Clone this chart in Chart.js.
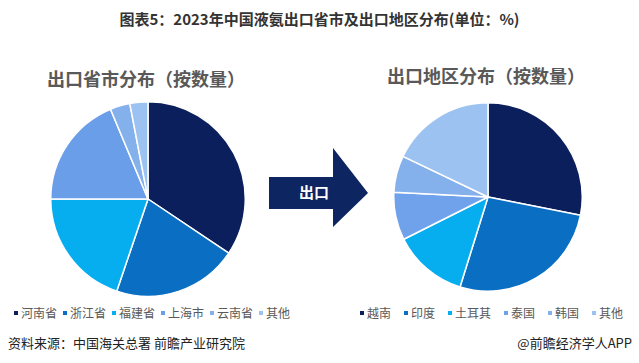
<!DOCTYPE html>
<html>
<head>
<meta charset="utf-8">
<script src="https://cdn.jsdelivr.net/npm/chart.js@4/dist/chart.umd.min.js"></script>
<style>
    body { margin: 0; width: 639px; height: 363px; background: #fff; position: relative; overflow: hidden;
           font-family: "Noto Sans CJK SC", "Noto Sans", sans-serif; }
    .abs { position: absolute; white-space: nowrap; }
    #title { left: 0; width: 639px; top: 8px; text-align: center; font-size: 15px; font-weight: bold; color: #333; }
    .sub { font-size: 18px; font-weight: bold; color: #595959; }
    .legend { display: flex; font-size: 12px; color: #595959; top: 304px; }
    .legend span { display: flex; align-items: center; }
    .legend i { display: inline-block; width: 4px; height: 4px; margin-right: 3px; }
    .src { font-size: 13px; color: #222; top: 333px; }
    #arrow { left: 269px; top: 148px; }
</style>
</head>
<body>
<div id="title" class="abs">图表5：2023年中国液氨出口省市及出口地区分布(单位：%)</div>
<div class="abs sub" style="left:47px; top:65px;">出口省市分布（按数量）</div>
<div class="abs sub" style="left:387px; top:62px;">出口地区分布（按数量）</div>

<div class="abs" style="left:50px; top:101px; width:196px; height:196px;"><canvas id="province-pie"></canvas></div>
<div class="abs" style="left:393px; top:102px; width:190px; height:190px;"><canvas id="region-pie"></canvas></div>

<svg id="arrow" class="abs" width="100" height="80">
    <polygon points="0,29 64,29 64,0 99,45 64,79 64,61 0,61" fill="#0D2560"/>
    <text x="30" y="50" font-size="15" font-weight="bold" fill="#fff" font-family="Noto Sans CJK SC">出口</text>
</svg>

<div id="province-legend" class="abs legend" style="left:14px;"></div>
<div id="region-legend" class="abs legend" style="left:360px;"></div>

<div class="abs src" style="left:8px;">资料来源：中国海关总署 前瞻产业研究院</div>
<div class="abs src" style="right:7px;">@前瞻经济学人APP</div>

<script>
// 出口省市分布（按数量）, %
var provinceLabels = ["河南省", "浙江省", "福建省", "上海市", "云南省", "其他"];
var provinceValues = [34.4, 20.8, 19.8, 18.7, 3.3, 3.0];
var provinceColors = ["#0B1F5C", "#0A6FC2", "#06AEEF", "#6A9EE8", "#84B0EC", "#9CC2F2"];

// 出口地区分布（按数量）, %
var regionLabels = ["越南", "印度", "土耳其", "泰国", "韩国", "其他"];
var regionValues = [28.1, 26.7, 12.8, 8.2, 6.3, 17.9];
var regionColors = ["#0B1F5C", "#0A6FC2", "#06AEEF", "#6FA2EA", "#84B0EC", "#9CC2F2"];

var options = {
    responsive: true,
    maintainAspectRatio: false,
    animation: false,
    layout: { padding: 0 },
    plugins: {
        legend: { display: false },
        tooltip: { enabled: false }
    }
};

function drawPie(id, labels, values, colors) {
    new Chart(document.getElementById(id), {
        type: 'pie',
        data: {
            labels: labels,
            datasets: [{
                data: values,
                backgroundColor: colors,
                borderColor: "#ffffff",
                borderWidth: 1.5
            }]
        },
        options: options
    });
}

function drawLegend(id, labels, colors, gap) {
    var box = document.getElementById(id);
    labels.forEach(function (label, i) {
        var item = document.createElement("span");
        item.style.marginRight = gap + "px";
        item.innerHTML = '<i style="background:' + colors[i] + '"></i>' + label;
        box.appendChild(item);
    });
}

drawPie("province-pie", provinceLabels, provinceValues, provinceColors);
drawPie("region-pie", regionLabels, regionValues, regionColors);
drawLegend("province-legend", provinceLabels, provinceColors, 6);
drawLegend("region-legend", regionLabels, regionColors, 13);
</script>
</body>
</html>
